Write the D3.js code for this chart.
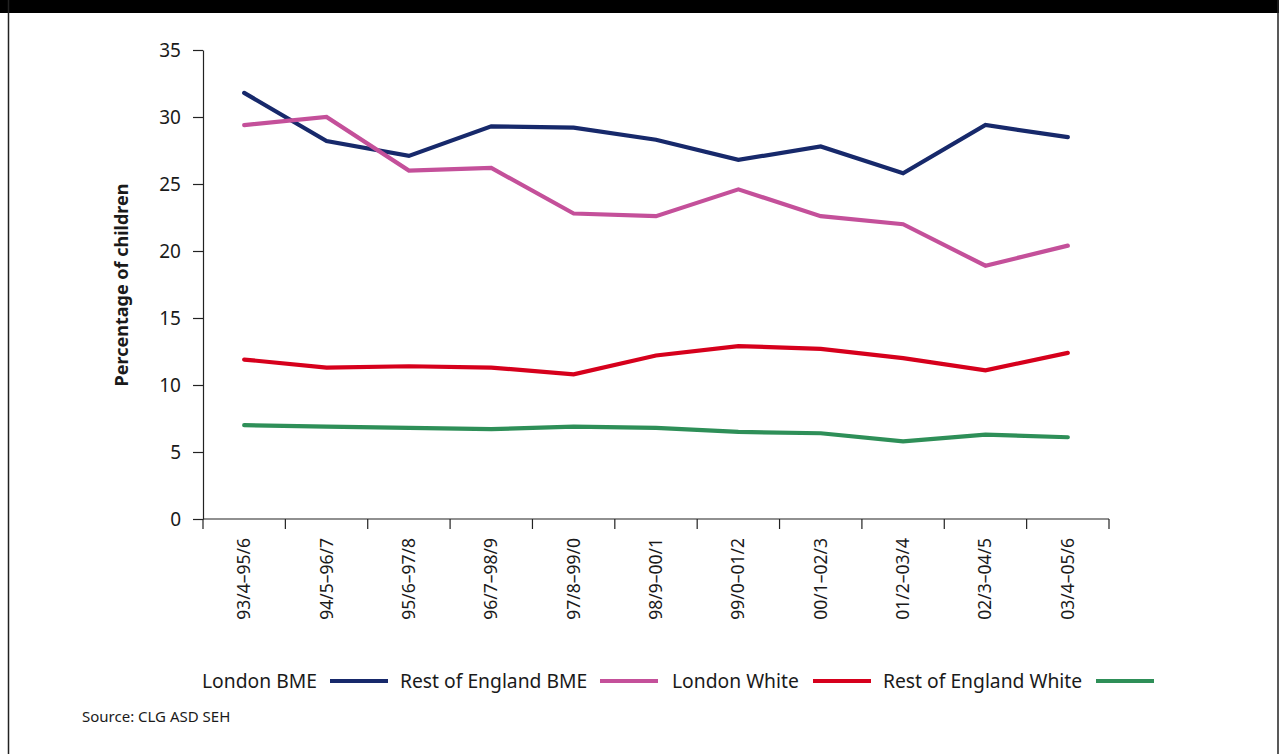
<!DOCTYPE html>
<html>
<head>
<meta charset="utf-8">
<script src="https://cdn.jsdelivr.net/npm/d3@7"></script>
<style>
  html, body { margin: 0; padding: 0; background: #fff; }
  svg { display: block; }
  text { font-family: "Noto Sans", "Open Sans", sans-serif; fill: #1a1a1a; }
</style>
</head>
<body>
<svg id="chart" width="1284" height="754"></svg>
<script>
const categories = ["93/4–95/6","94/5–96/7","95/6–97/8","96/7–98/9","97/8–99/0","98/9–00/1","99/0–01/2","00/1–02/3","01/2–03/4","02/3–04/5","03/4–05/6"];
const londonBME       = [31.8, 28.2, 27.1, 29.3, 29.2, 28.3, 26.8, 27.8, 25.8, 29.4, 28.5];
const restEnglandBME  = [29.4, 30.0, 26.0, 26.2, 22.8, 22.6, 24.6, 22.6, 22.0, 18.9, 20.4];
const londonWhite     = [11.9, 11.3, 11.4, 11.3, 10.8, 12.2, 12.9, 12.7, 12.0, 11.1, 12.4];
const restEnglandWhite= [7.0, 6.9, 6.8, 6.7, 6.9, 6.8, 6.5, 6.4, 5.8, 6.3, 6.1];
const seriesNames  = ["London BME", "Rest of England BME", "London White", "Rest of England White"];
const seriesColors = ["#17296b", "#c4509a", "#d6001c", "#2e8f58"];
const yTicks = [0, 5, 10, 15, 20, 25, 30, 35];

const series = [londonBME, restEnglandBME, londonWhite, restEnglandWhite].map((v, i) => ({
  name: seriesNames[i], color: seriesColors[i], values: v
}));

const svg = d3.select("#chart");

// frame
svg.append("rect").attr("x", 0).attr("y", 0).attr("width", 1279).attr("height", 13).attr("fill", "#000");
svg.append("line").attr("x1", 8.5).attr("x2", 8.5).attr("y1", 0).attr("y2", 754).attr("stroke", "#222").attr("stroke-width", 1.5);
svg.append("line").attr("x1", 1278).attr("x2", 1278).attr("y1", 0).attr("y2", 754).attr("stroke", "#222").attr("stroke-width", 1.5);

const x = d3.scaleBand().domain(categories).range([203, 1109]);
const y = d3.scaleLinear().domain([0, 35]).range([519, 50]);

// y axis
const yAxis = svg.append("g").attr("transform", "translate(203,0)")
  .call(d3.axisLeft(y).tickValues(yTicks).tickSize(10).tickPadding(12).tickSizeOuter(0));
yAxis.select(".domain").attr("stroke", "#222").attr("stroke-width", 1.2);
yAxis.selectAll(".tick line").attr("stroke", "#222").attr("stroke-width", 1.2);
yAxis.selectAll(".tick text").style("font-size", "19px").attr("fill", "#1a1a1a")
  .style("font-family", '"Noto Sans", sans-serif');

// x axis
const xAxis = svg.append("g").attr("transform", "translate(0,519)");
xAxis.append("line").attr("x1", 203).attr("x2", 1109).attr("y1", 0).attr("y2", 0)
  .attr("stroke", "#222").attr("stroke-width", 1.2);
const boundaries = categories.map(c => x(c)).concat([x(categories[categories.length - 1]) + x.bandwidth()]);
xAxis.selectAll("line.xt").data(boundaries).enter().append("line").attr("class", "xt")
  .attr("x1", d => d).attr("x2", d => d).attr("y1", 0).attr("y2", 10)
  .attr("stroke", "#222").attr("stroke-width", 1.2);
xAxis.selectAll("text.xl").data(categories).enter().append("text").attr("class", "xl")
  .attr("transform", d => `translate(${x(d) + x.bandwidth() / 2 + 6},19) rotate(-90)`)
  .attr("text-anchor", "end")
  .style("font-size", "17.5px")
  .text(d => d);

// y axis title
svg.append("text")
  .attr("transform", "translate(128,285) rotate(-90)")
  .attr("text-anchor", "middle")
  .style("font-size", "18px").style("font-weight", "bold")
  .text("Percentage of children");

// lines
const line = d3.line().x((d, i) => x(categories[i]) + x.bandwidth() / 2).y(d => y(d));
svg.selectAll("path.series").data(series).enter().append("path").attr("class", "series")
  .attr("d", d => line(d.values))
  .attr("fill", "none")
  .attr("stroke", d => d.color)
  .attr("stroke-width", 4.2)
  .attr("stroke-linejoin", "miter")
  .attr("stroke-linecap", "round");

// legend
const legendY = 681;
const legendTextX = [202, 400, 672, 883];
const legendLineX = [330, 600, 813, 1096];
const lg = svg.append("g");
series.forEach((s, i) => {
  lg.append("text").attr("x", legendTextX[i]).attr("y", legendY + 7)
    .style("font-size", "19.3px").text(s.name);
  lg.append("line").attr("x1", legendLineX[i]).attr("x2", legendLineX[i] + 58)
    .attr("y1", legendY).attr("y2", legendY)
    .attr("stroke", s.color).attr("stroke-width", 4);
});

// source
svg.append("text").attr("x", 82).attr("y", 722).style("font-size", "15px").attr("fill", "#333")
  .text("Source: CLG ASD SEH");
</script>
</body>
</html>
